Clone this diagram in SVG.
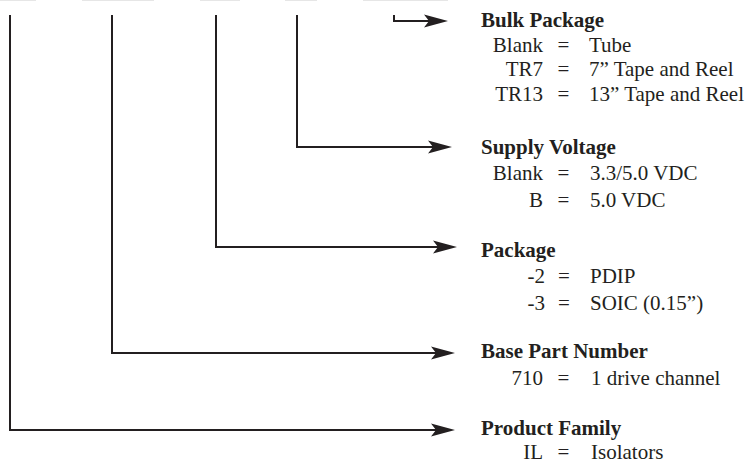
<svg xmlns="http://www.w3.org/2000/svg" width="755" height="464" viewBox="0 0 755 464">
  <style>
    .ln { fill: none; stroke: #231f20; stroke-width: 2; marker-end: url(#arr); }
    .t { font-family: "Liberation Serif", "Times New Roman", serif; font-size: 21px; fill: #231f20; }
    .h { font-weight: bold; }
    .lab { text-anchor: end; }
    .eq { text-anchor: middle; }
    .edge { fill: #e6e6e6; }
  </style>
  <defs>
    <marker id="arr" markerUnits="userSpaceOnUse" viewBox="-6 -8 26 16" markerWidth="26" markerHeight="16" refX="0" refY="0" orient="auto">
      <path d="M-5,-6.5 L19,0 L-5,6.5 L0,0 Z" fill="#231f20"/>
    </marker>
  </defs>
  <rect width="755" height="464" fill="#ffffff"/>
  <g id="top-edge">
    <rect class="edge" x="0" y="0" width="36" height="1"/>
    <rect class="edge" x="82" y="0" width="72" height="1"/>
    <rect class="edge" x="200" y="0" width="40" height="1"/>
    <rect class="edge" x="285" y="0" width="32" height="1"/>
    <rect class="edge" x="363" y="0" width="85" height="1"/>
  </g>
  <g id="connectors">
    <path class="ln" d="M394,15 V21 H429"/>
    <path class="ln" d="M297,15 V147 H433"/>
    <path class="ln" d="M216,15 V247 H438"/>
    <path class="ln" d="M112,15 V353 H436"/>
    <path class="ln" d="M10,15 V430 H436"/>
  </g>
  <g id="bulk-package" class="t">
    <text class="h" x="481" y="27">Bulk Package</text>
    <text class="lab" x="543" y="51.5">Blank</text><text class="eq" x="563.5" y="51.5">=</text><text x="589" y="51.5">Tube</text>
    <text class="lab" x="543" y="76">TR7</text><text class="eq" x="563.5" y="76">=</text><text x="589" y="76">7” Tape and Reel</text>
    <text class="lab" x="543" y="100.5">TR13</text><text class="eq" x="563.5" y="100.5">=</text><text x="589" y="100.5">13” Tape and Reel</text>
  </g>
  <g id="supply-voltage" class="t">
    <text class="h" x="481" y="153.5">Supply Voltage</text>
    <text class="lab" x="543" y="180">Blank</text><text class="eq" x="563.5" y="180">=</text><text x="590" y="180">3.3/5.0 VDC</text>
    <text class="lab" x="543" y="206.5">B</text><text class="eq" x="563.5" y="206.5">=</text><text x="590" y="206.5">5.0 VDC</text>
  </g>
  <g id="package" class="t">
    <text class="h" x="481" y="257">Package</text>
    <text class="lab" x="545" y="283">-2</text><text class="eq" x="564" y="283">=</text><text x="590" y="283">PDIP</text>
    <text class="lab" x="545" y="310">-3</text><text class="eq" x="564" y="310">=</text><text x="590" y="310">SOIC (0.15”)</text>
  </g>
  <g id="base-part-number" class="t">
    <text class="h" x="481" y="358">Base Part Number</text>
    <text class="lab" x="543" y="385">710</text><text class="eq" x="563.5" y="385">=</text><text x="591" y="385">1 drive channel</text>
  </g>
  <g id="product-family" class="t">
    <text class="h" x="481" y="435">Product Family</text>
    <text class="lab" x="543" y="459">IL</text><text class="eq" x="563.5" y="459">=</text><text x="591" y="459">Isolators</text>
  </g>
</svg>
